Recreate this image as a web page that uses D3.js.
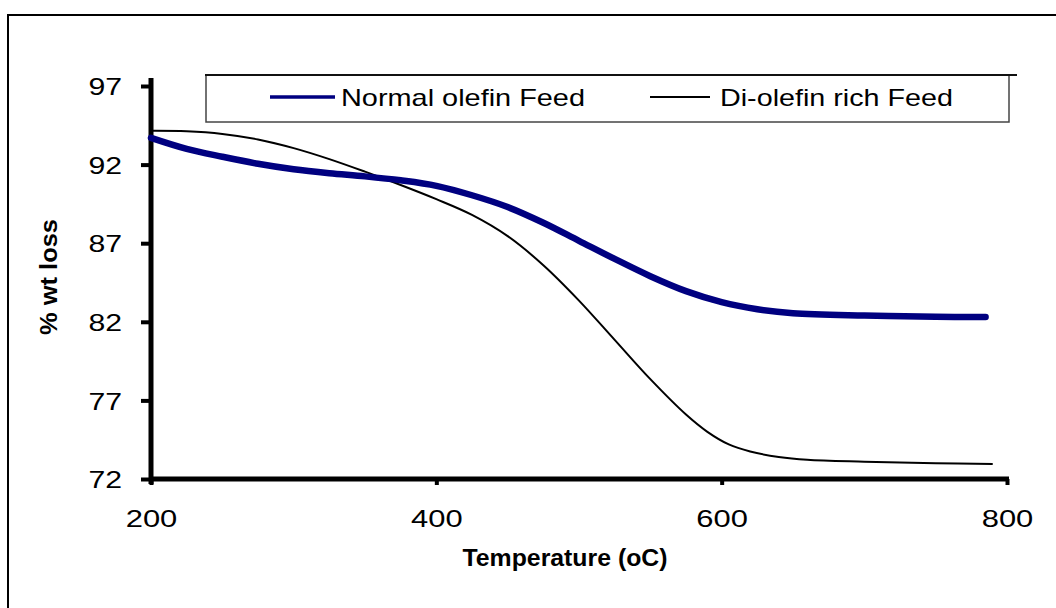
<!DOCTYPE html>
<html>
<head>
<meta charset="utf-8">
<script src="https://cdn.jsdelivr.net/npm/d3@7"></script>
<style>
  body { margin: 0; background: #fff; }
  svg { display: block; }
  text { font-family: "Liberation Sans", Arial, Helvetica, sans-serif; fill: #000; }
</style>
</head>
<body>
<svg id="chart" width="1056" height="608"></svg>
<script>
// Thermogravimetric curves: % weight remaining vs temperature
const normalTemp = [200, 225, 250, 275, 300, 325, 350, 375, 400, 425, 450, 475, 500, 525, 550, 575, 600, 625, 650, 700, 750, 785];
const normalLoss = [93.7, 93.0, 92.5, 92.05, 91.7, 91.45, 91.25, 91.0, 90.65, 90.05, 89.3, 88.3, 87.15, 86.0, 84.9, 83.95, 83.25, 82.8, 82.55, 82.4, 82.32, 82.3];

const dioleTemp = [200, 225, 250, 275, 300, 325, 350, 375, 400, 425, 450, 475, 500, 525, 550, 575, 590, 605, 620, 640, 660, 700, 750, 790];
const dioleLoss = [94.15, 94.12, 93.95, 93.6, 93.05, 92.35, 91.55, 90.7, 89.8, 88.8, 87.45, 85.6, 83.35, 80.85, 78.35, 76.1, 75.0, 74.2, 73.75, 73.4, 73.22, 73.1, 73.0, 72.95];

const seriesNames = ["Normal olefin Feed", "Di-olefin rich Feed"];
const xTicks = [200, 400, 600, 800];
const yTicks = [72, 77, 82, 87, 92, 97];
const xTitle = "Temperature (oC)";
const yTitle = "% wt loss";

const svg = d3.select("#chart");

// outer frame (left and top edges)
svg.append("path")
  .attr("d", "M8,608 L8,15 L1056,15")
  .attr("fill", "none").attr("stroke", "#000").attr("stroke-width", 2);

const x = d3.scaleLinear().domain([200, 800]).range([151, 1007]);
const y = d3.scaleLinear().domain([72, 97]).range([479, 86]);

// y axis
const yAxis = svg.append("g").attr("transform", `translate(${x(200)},0)`)
  .call(d3.axisLeft(y).tickValues(yTicks).tickSize(10).tickSizeOuter(0).tickPadding(19));
yAxis.select(".domain").remove();
yAxis.selectAll(".tick line").attr("stroke", "#000").attr("stroke-width", 4);
yAxis.selectAll(".tick text")
  .attr("font-size", 24).attr("dy", "0.36em")
  .attr("textLength", d => String(d).length * 16.8)
  .attr("lengthAdjust", "spacingAndGlyphs")
  .style("font-family", '"Liberation Sans", Arial, sans-serif');
svg.append("line")
  .attr("x1", x(200)).attr("x2", x(200))
  .attr("y1", 78).attr("y2", 484)
  .attr("stroke", "#000").attr("stroke-width", 5);

// x axis
const xAxis = svg.append("g").attr("transform", `translate(0,${y(72)})`)
  .call(d3.axisBottom(x).tickValues(xTicks).tickSize(6).tickSizeOuter(0).tickPadding(42));
xAxis.select(".domain").remove();
xAxis.selectAll(".tick line").attr("stroke", "#000").attr("stroke-width", 4);
xAxis.selectAll(".tick text")
  .attr("font-size", 24).attr("dy", "0")
  .attr("textLength", d => String(d).length * 17.2)
  .attr("lengthAdjust", "spacingAndGlyphs")
  .style("font-family", '"Liberation Sans", Arial, sans-serif');
svg.append("line")
  .attr("x1", x(200) - 2).attr("x2", x(800) + 2)
  .attr("y1", y(72)).attr("y2", y(72))
  .attr("stroke", "#000").attr("stroke-width", 5);

// axis titles
svg.append("text")
  .attr("x", 565).attr("y", 566)
  .attr("text-anchor", "middle")
  .attr("font-size", 23).attr("font-weight", "bold")
  .attr("textLength", 205).attr("lengthAdjust", "spacingAndGlyphs")
  .text(xTitle);
svg.append("text")
  .attr("transform", "translate(57,277) rotate(-90)")
  .attr("text-anchor", "middle")
  .attr("font-size", 23).attr("font-weight", "bold")
  .attr("textLength", 116).attr("lengthAdjust", "spacingAndGlyphs")
  .text(yTitle);

// curves
const line = d3.line().x(d => x(d[0])).y(d => y(d[1])).curve(d3.curveCatmullRom.alpha(0.5));
const normalData = normalTemp.map((t, i) => [t, normalLoss[i]]);
const dioleData = dioleTemp.map((t, i) => [t, dioleLoss[i]]);

svg.append("path").datum(dioleData)
  .attr("d", line).attr("fill", "none")
  .attr("stroke", "#000").attr("stroke-width", 2);
svg.append("path").datum(normalData)
  .attr("d", line).attr("fill", "none")
  .attr("stroke", "#000080").attr("stroke-width", 6.5)
  .attr("stroke-linecap", "round");

// legend
const lg = svg.append("g");
lg.append("rect")
  .attr("x", 206).attr("y", 75).attr("width", 803).attr("height", 47)
  .attr("fill", "#fff").attr("stroke", "#444").attr("stroke-width", 1.5);
lg.append("line")
  .attr("x1", 205).attr("x2", 1017).attr("y1", 75).attr("y2", 75)
  .attr("stroke", "#111").attr("stroke-width", 2);

lg.append("line").attr("x1", 270).attr("x2", 335).attr("y1", 97).attr("y2", 97)
  .attr("stroke", "#000080").attr("stroke-width", 3.5);
lg.append("text").attr("x", 341).attr("y", 106)
  .attr("font-size", 24)
  .attr("textLength", 244).attr("lengthAdjust", "spacingAndGlyphs")
  .text(seriesNames[0]);

lg.append("line").attr("x1", 650).attr("x2", 710).attr("y1", 97).attr("y2", 97)
  .attr("stroke", "#000").attr("stroke-width", 2);
lg.append("text").attr("x", 720).attr("y", 106)
  .attr("font-size", 24)
  .attr("textLength", 233).attr("lengthAdjust", "spacingAndGlyphs")
  .text(seriesNames[1]);
</script>
</body>
</html>
